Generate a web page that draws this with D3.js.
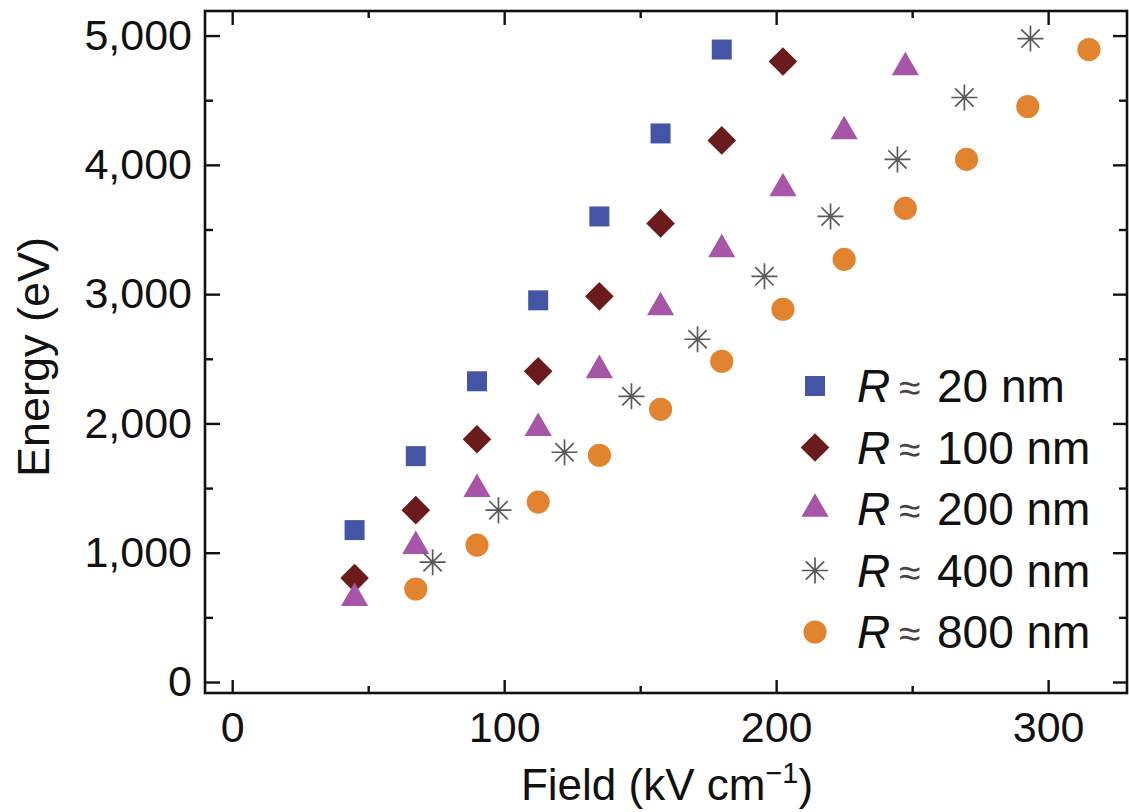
<!DOCTYPE html>
<html>
<head>
<meta charset="utf-8">
<script src="https://cdn.jsdelivr.net/npm/d3@7"></script>
<style>
  html, body { margin: 0; padding: 0; background: #fff; }
  svg { display: block; font-family: "Liberation Sans", Arial, Helvetica, sans-serif; }
</style>
</head>
<body>
<svg id="chart" width="1129" height="812"></svg>
<script>
// Field (kV cm^-1) and energy (eV) for each emitter radius
const seriesNames = ["20 nm", "100 nm", "200 nm", "400 nm", "800 nm"];

const fieldR20 = [45, 67.5, 90, 112.5, 135, 157.5, 180];
const energyR20 = [1175, 1747, 2326, 2952, 3601, 4243, 4892];

const fieldR100 = [45, 67.5, 90, 112.5, 135, 157.5, 180, 202.5];
const energyR100 = [804, 1329, 1878, 2403, 2983, 3547, 4189, 4799];

const fieldR200 = [45, 67.5, 90, 112.5, 135, 157.5, 180, 202.5, 225, 247.5];
const energyR200 = [649, 1051, 1492, 1963, 2411, 2898, 3346, 3818, 4258, 4753];

const fieldR400 = [73.7, 97.9, 122.2, 146.8, 171.1, 195.7, 220, 244.6, 269.2, 293.5];
const energyR400 = [927, 1329, 1777, 2210, 2651, 3138, 3601, 4042, 4521, 4977];

const fieldR800 = [67.5, 90, 112.5, 135, 157.5, 180, 202.5, 225, 247.5, 270, 292.5, 315];
const energyR800 = [719, 1059, 1391, 1754, 2110, 2481, 2883, 3269, 3663, 4042, 4451, 4892];

const xTicks = [0, 100, 200, 300];
const xMinorTicks = [50, 150, 250];
const yTicks = [0, 1000, 2000, 3000, 4000, 5000];
const yMinorTicks = [500, 1500, 2500, 3500, 4500];

const colors = ["#4455a5", "#6c1b1d", "#a655a7", "#5a5a5a", "#e1832f"];

const series = [
  { name: seriesNames[0], xs: fieldR20,  ys: energyR20,  shape: "square",   color: colors[0] },
  { name: seriesNames[1], xs: fieldR100, ys: energyR100, shape: "diamond",  color: colors[1] },
  { name: seriesNames[2], xs: fieldR200, ys: energyR200, shape: "triangle", color: colors[2] },
  { name: seriesNames[3], xs: fieldR400, ys: energyR400, shape: "asterisk", color: colors[3] },
  { name: seriesNames[4], xs: fieldR800, ys: energyR800, shape: "circle",   color: colors[4] }
];

const svg = d3.select("#chart");
const plotLeft = 205, plotRight = 1127, plotTop = 11, plotBottom = 693;

const x = d3.scaleLinear().domain([-10, 329]).range([plotLeft, plotRight]);
const y = d3.scaleLinear().domain([-85, 5190]).range([plotBottom, plotTop]);

const tickFont = 43;
const fmt = d3.format(",");

// Axes with inward ticks on all four sides
const gAxes = svg.append("g");

function styleAxis(g) {
  g.select(".domain").remove();
  g.selectAll(".tick line").attr("stroke", "#111").attr("stroke-width", 2.4);
  g.selectAll(".tick text").attr("fill", "#111").attr("font-size", tickFont)
    .attr("font-family", "Liberation Sans, Arial, Helvetica, sans-serif");
}

gAxes.append("g").attr("transform", `translate(0,${plotBottom})`)
  .call(d3.axisBottom(x).tickValues(xTicks).tickFormat(d3.format("d")).tickSizeInner(-13).tickSizeOuter(0).tickPadding(18))
  .call(styleAxis);
gAxes.append("g").attr("transform", `translate(0,${plotBottom})`)
  .call(d3.axisBottom(x).tickValues(xMinorTicks).tickFormat("").tickSizeInner(-7).tickSizeOuter(0))
  .call(styleAxis);
gAxes.append("g").attr("transform", `translate(0,${plotTop})`)
  .call(d3.axisTop(x).tickValues(xTicks).tickFormat("").tickSizeInner(-14).tickSizeOuter(0))
  .call(styleAxis);
gAxes.append("g").attr("transform", `translate(0,${plotTop})`)
  .call(d3.axisTop(x).tickValues(xMinorTicks).tickFormat("").tickSizeInner(-7).tickSizeOuter(0))
  .call(styleAxis);

gAxes.append("g").attr("transform", `translate(${plotLeft},0)`)
  .call(d3.axisLeft(y).tickValues(yTicks).tickFormat(fmt).tickSizeInner(-15).tickSizeOuter(0).tickPadding(13))
  .call(styleAxis);
gAxes.append("g").attr("transform", `translate(${plotLeft},0)`)
  .call(d3.axisLeft(y).tickValues(yMinorTicks).tickFormat("").tickSizeInner(-8).tickSizeOuter(0))
  .call(styleAxis);
gAxes.append("g").attr("transform", `translate(${plotRight},0)`)
  .call(d3.axisRight(y).tickValues(yTicks).tickFormat("").tickSizeInner(-14).tickSizeOuter(0))
  .call(styleAxis);
gAxes.append("g").attr("transform", `translate(${plotRight},0)`)
  .call(d3.axisRight(y).tickValues(yMinorTicks).tickFormat("").tickSizeInner(-8).tickSizeOuter(0))
  .call(styleAxis);

// Plot frame
svg.append("rect")
  .attr("x", plotLeft).attr("y", plotTop)
  .attr("width", plotRight - plotLeft).attr("height", plotBottom - plotTop)
  .attr("fill", "none").attr("stroke", "#111").attr("stroke-width", 2.6);

// Marker drawing
const asteriskPath = (() => {
  const r = 13, d = r * Math.SQRT1_2;
  return `M0,${-r}L0,${r}M${-r},0L${r},0M${-d},${-d}L${d},${d}M${-d},${d}L${d},${-d}`;
})();

function drawMarker(sel, shape, color) {
  if (shape === "square") {
    sel.append("path").attr("d", d3.symbol(d3.symbolSquare, 400)()).attr("fill", color);
  } else if (shape === "diamond") {
    sel.append("path").attr("d", d3.symbol(d3.symbolSquare, 410)()).attr("transform", "rotate(45)").attr("fill", color);
  } else if (shape === "triangle") {
    sel.append("path").attr("d", d3.symbol(d3.symbolTriangle, 320)()).attr("fill", color);
  } else if (shape === "circle") {
    sel.append("path").attr("d", d3.symbol(d3.symbolCircle, 420)()).attr("fill", color);
  } else if (shape === "asterisk") {
    sel.append("path").attr("d", asteriskPath).attr("fill", "none")
      .attr("stroke", color).attr("stroke-width", 1.7);
  }
}

const gData = svg.append("g");
series.forEach(s => {
  const pts = s.xs.map((v, i) => ({ fx: v, e: s.ys[i] }));
  gData.append("g").selectAll("g").data(pts).join("g")
    .attr("transform", d => `translate(${x(d.fx)},${y(d.e)})`)
    .each(function () { drawMarker(d3.select(this), s.shape, s.color); });
});

// Legend
const legendFont = 46;
const legend = svg.append("g");
series.forEach((s, i) => {
  const rowY = 386 + i * 61.5;
  const mk = legend.append("g").attr("transform", `translate(815,${rowY})`);
  drawMarker(mk, s.shape, s.color);
  legend.append("text").attr("x", 857).attr("y", rowY + 16)
    .attr("font-size", legendFont).attr("font-style", "italic").attr("fill", "#111").text("R");
  legend.append("text").attr("x", 899).attr("y", rowY + 15)
    .attr("font-size", 39).attr("fill", "#444").text("≈");
  legend.append("text").attr("x", 937).attr("y", rowY + 16)
    .attr("font-size", legendFont).attr("fill", "#111").text(s.name);
});

// Axis titles
svg.append("text")
  .attr("transform", "translate(49,357) rotate(-90)")
  .attr("text-anchor", "middle").attr("font-size", 45).attr("fill", "#111")
  .text("Energy (eV)");

const xt = svg.append("text")
  .attr("x", 667).attr("y", 800)
  .attr("text-anchor", "middle").attr("font-size", 44).attr("fill", "#111");
xt.append("tspan").text("Field (kV cm");
xt.append("tspan").attr("font-size", 29).attr("dy", -17).text("−1");
xt.append("tspan").attr("dy", 17).text(")");
</script>
</body>
</html>
